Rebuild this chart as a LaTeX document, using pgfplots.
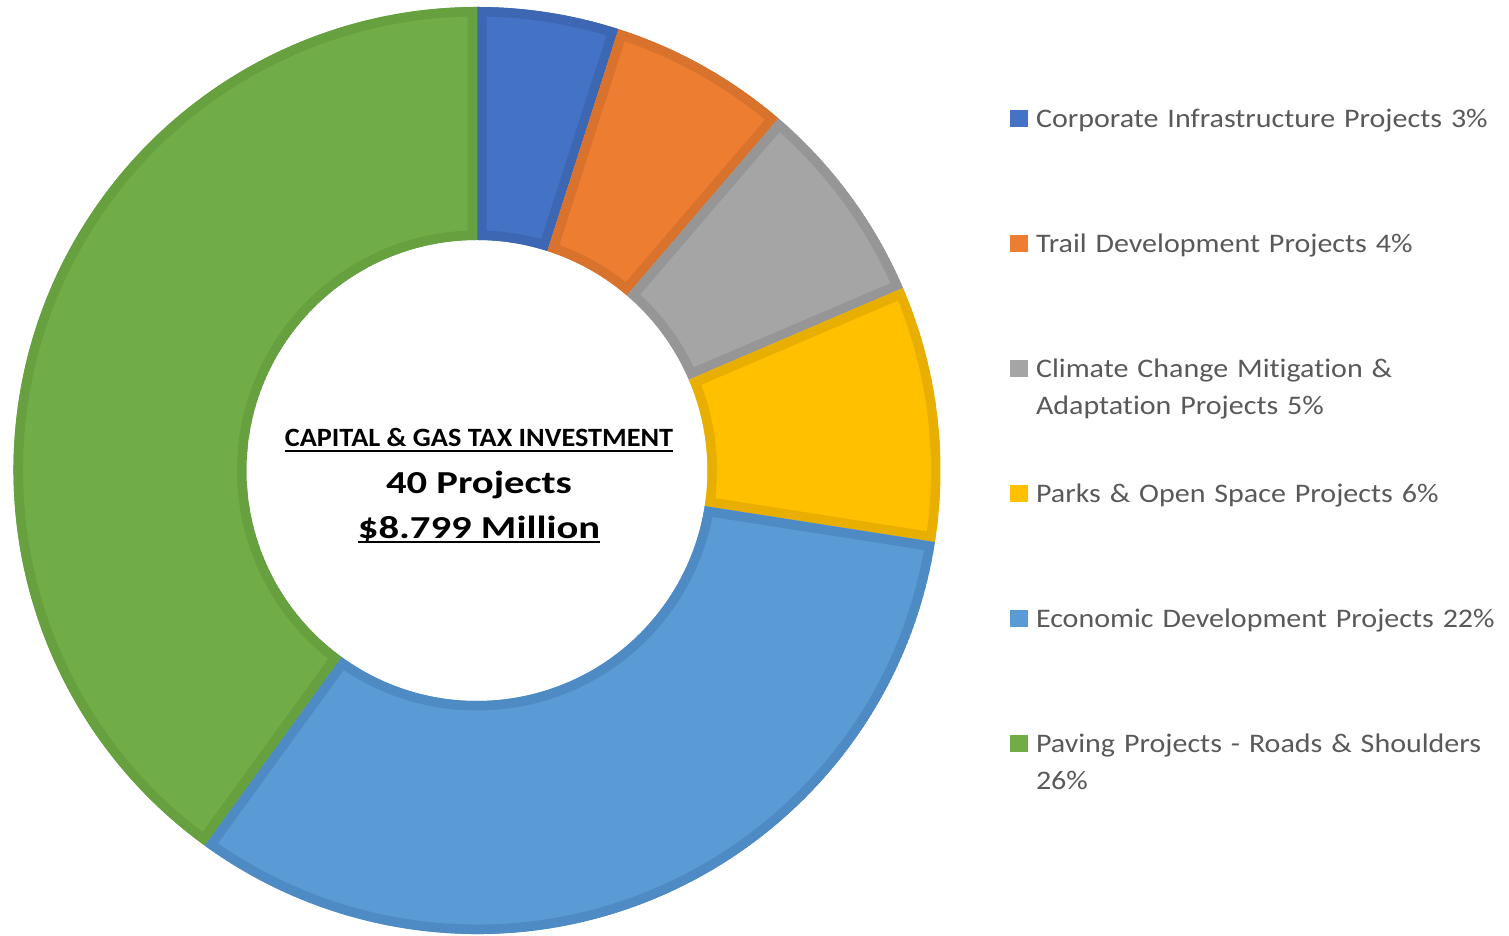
\documentclass[border=0pt]{standalone}
\usepackage{pgfplots}
\pgfplotsset{compat=1.18}
\usepackage{pgfplotstable}
\usepackage{fontspec}
\setmainfont{Carlito}[Ligatures=NoCommon]
\newfontfamily\legfont{Carlito}[Ligatures=NoCommon, FakeStretch=1.12]
\newfontfamily\capfont{Carlito}[Ligatures=NoCommon, FakeStretch=1.07]
\newfontfamily\bigfont{Carlito}[Ligatures=NoCommon, FakeStretch=1.27]

\definecolor{sliceFill0}{HTML}{4472C4}
\definecolor{sliceLine0}{HTML}{3D67B2}
\definecolor{sliceFill1}{HTML}{ED7D31}
\definecolor{sliceLine1}{HTML}{D8722D}
\definecolor{sliceFill2}{HTML}{A5A5A5}
\definecolor{sliceLine2}{HTML}{969696}
\definecolor{sliceFill3}{HTML}{FFC000}
\definecolor{sliceLine3}{HTML}{E8AF00}
\definecolor{sliceFill4}{HTML}{5B9BD5}
\definecolor{sliceLine4}{HTML}{4E8AC3}
\definecolor{sliceFill5}{HTML}{70AD47}
\definecolor{sliceLine5}{HTML}{66A03F}
\definecolor{legtext}{HTML}{595959}

% share of each project group (clockwise from 12 o'clock)
\pgfplotstableread{
idx value
0 3.26
1 4.18
2 4.81
3 5.88
4 21.47
5 26.40
}\donutdata

\newcommand\ulbox[1]{\setbox0\hbox{#1}\rlap{\rule[-2.5pt]{\wd0}{1pt}}\box0}

\pgfplotsset{sqlegend/.style={legend image code/.code={\fill[##1, draw=none] (0pt,0pt) rectangle (9pt,8.7pt);}}}

\begin{document}
\begin{tikzpicture}
\xdef\tot{0}
\foreach \i in {0,...,5}{%
  \pgfplotstablegetelem{\i}{value}\of\donutdata
  \expandafter\xdef\csname startv\i\endcsname{\tot}%
  \pgfmathsetmacro\tmp{\tot+\pgfplotsretval}%
  \xdef\tot{\tmp}%
  \expandafter\xdef\csname endv\i\endcsname{\tot}%
}
\foreach \i in {0,...,5}{%
  \pgfmathsetmacro\a{90-360*(\csname startv\i\endcsname/\tot)}%
  \pgfmathsetmacro\b{90-360*(\csname endv\i\endcsname/\tot)}%
  \expandafter\xdef\csname angS\i\endcsname{\a}%
  \expandafter\xdef\csname angE\i\endcsname{\b}%
}
\begin{axis}[
  hide axis, clip=false,
  x=0.5pt, y=0.5pt, scale only axis,
  xmin=0, xmax=1509, ymin=0, ymax=936,
  at={(0pt,0pt)}, anchor=south west,
  legend style={at={(axis cs:1010,828.7)}, anchor=north west, draw=none, fill=none,
    inner sep=0pt, outer sep=0pt, row sep=0pt, column sep=4pt,
    font=\legfont\fontsize{13.4pt}{18.75pt}\selectfont,
    nodes={inner sep=0pt, text=legtext, text height=10pt, text depth=52.5pt, text width=270pt, align=left},
    cells={anchor=base west}},
]
\pgfplotsinvokeforeach{0,...,5}{
  \begin{scope}
  \clip ([shift={(\csname angS#1\endcsname:231.75pt)}]axis cs:477,465.5)
     arc[start angle=\csname angS#1\endcsname, end angle=\csname angE#1\endcsname, radius=231.75pt]
     -- ([shift={(\csname angE#1\endcsname:115.25pt)}]axis cs:477,465.5)
     arc[start angle=\csname angE#1\endcsname, end angle=\csname angS#1\endcsname, radius=115.25pt]
     -- cycle;
  \filldraw[fill=sliceFill#1, draw=sliceLine#1, line width=9.5pt]
     ([shift={(\csname angS#1\endcsname:231.75pt)}]axis cs:477,465.5)
     arc[start angle=\csname angS#1\endcsname, end angle=\csname angE#1\endcsname, radius=231.75pt]
     -- ([shift={(\csname angE#1\endcsname:115.25pt)}]axis cs:477,465.5)
     arc[start angle=\csname angE#1\endcsname, end angle=\csname angS#1\endcsname, radius=115.25pt]
     -- cycle;
  \end{scope}
}
\node[font=\capfont\bfseries\fontsize{13.2pt}{15pt}\selectfont, anchor=base, inner sep=0pt] at (axis cs:479,489.3) {\ulbox{CAPITAL \& GAS TAX INVESTMENT}};
\node[font=\bigfont\bfseries\fontsize{16pt}{19pt}\selectfont, anchor=base, inner sep=0pt] at (axis cs:479,442.7) {40 Projects};
\node[font=\bigfont\bfseries\fontsize{16pt}{19pt}\selectfont, anchor=base, inner sep=0pt] at (axis cs:479,397.7) {\ulbox{\$8.799 Million}};

\addlegendimage{sqlegend, fill=sliceFill0}
\addlegendentry{Corporate Infrastructure Projects 3\%}
\addlegendimage{sqlegend, fill=sliceFill1}
\addlegendentry{Trail Development Projects 4\%}
\addlegendimage{sqlegend, fill=sliceFill2}
\addlegendentry{Climate Change Mitigation \&\newline Adaptation Projects 5\%}
\addlegendimage{sqlegend, fill=sliceFill3}
\addlegendentry{Parks \& Open Space Projects 6\%}
\addlegendimage{sqlegend, fill=sliceFill4}
\addlegendentry{Economic Development Projects 22\%}
\addlegendimage{sqlegend, fill=sliceFill5}
\addlegendentry{Paving Projects - Roads \& Shoulders\newline 26\%}
\end{axis}
\pgfresetboundingbox
\path[use as bounding box] (0pt,0pt) rectangle (754.5pt,468pt);
\end{tikzpicture}
\end{document}
